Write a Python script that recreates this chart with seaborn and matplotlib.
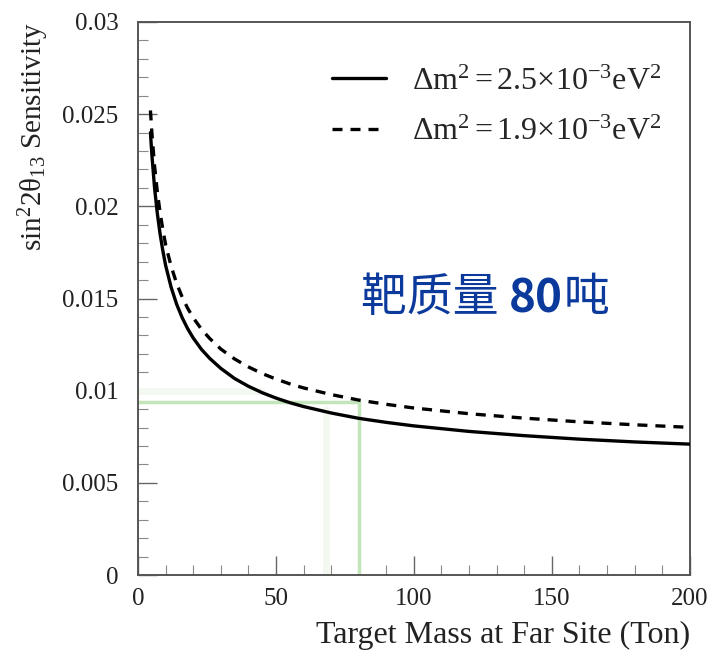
import matplotlib
matplotlib.use("Agg")
import matplotlib.pyplot as plt
import seaborn as sns
import pandas as pd

# Target mass at far site (ton)
mass = [4.5, 5, 6, 7, 8, 9, 10, 12, 14, 16, 18, 20, 23, 26, 30, 35, 40, 45,
        50, 55, 60, 70, 80, 90, 100, 120, 140, 160, 180, 200]
# sin^2(2θ13) sensitivity for the two Δm² values
sens_25 = [0.02400, 0.02284, 0.02099, 0.01961, 0.01850, 0.01759, 0.01680,
           0.01561, 0.01469, 0.01396, 0.01336, 0.01286, 0.01224, 0.01175,
           0.01121, 0.01066, 0.01024, 0.00989, 0.00960, 0.00935, 0.00914,
           0.00879, 0.00850, 0.00828, 0.00809, 0.00779, 0.00756, 0.00737,
           0.00722, 0.00710]
sens_19 = [0.02520, 0.02403, 0.02217, 0.02078, 0.01966, 0.01874, 0.01792,
           0.01675, 0.01582, 0.01508, 0.01447, 0.01396, 0.01333, 0.01283,
           0.01226, 0.01172, 0.01129, 0.01093, 0.01063, 0.01037, 0.01015,
           0.00979, 0.00949, 0.00926, 0.00906, 0.00875, 0.00851, 0.00831,
           0.00815, 0.00801]
labels = [r"$\Delta\mathrm{m}^{2} = 2.5{\times}10^{-3}\mathrm{eV}^{2}$",
          r"$\Delta\mathrm{m}^{2} = 1.9{\times}10^{-3}\mathrm{eV}^{2}$"]

# Chosen design point
chosen_mass = 80
chosen_sens = 0.0094

xticks = [0, 50, 100, 150, 200]
yticks = [0, 0.005, 0.01, 0.015, 0.02, 0.025, 0.03]
ytick_labels = ["0", "0.005", "0.01", "0.015", "0.02", "0.025", "0.03"]

df = pd.DataFrame({
    "mass": mass * 2,
    "sens": sens_25 + sens_19,
    "curve": [labels[0]] * len(mass) + [labels[1]] * len(mass),
})

sns.set_theme(style="white")
plt.rcParams["font.family"] = ["Liberation Serif", "DejaVu Serif"]
plt.rcParams["mathtext.fontset"] = "custom"
plt.rcParams["mathtext.rm"] = "Liberation Serif"
plt.rcParams["mathtext.it"] = "Liberation Serif:italic"

fig = plt.figure(figsize=(7.17, 6.66), dpi=100)
ax = fig.add_axes([0.1925, 0.1366, 0.7695, 0.8304])

# Guide lines marking the chosen target mass
ax.plot([0, 45], [0.0100, 0.0100], color="#f3f9f1", lw=5, zorder=1)
ax.plot([68, 68], [0, 0.0090], color="#f3f9f1", lw=5, zorder=1)
ax.plot([0, chosen_mass], [chosen_sens, chosen_sens], color="#c3e5ba", lw=2.5, zorder=1)
ax.plot([chosen_mass, chosen_mass], [0, chosen_sens], color="#c3e5ba", lw=2.5, zorder=1)

sns.lineplot(data=df, x="mass", y="sens", style="curve", color="black",
             dashes={labels[0]: "", labels[1]: (3.0, 2.4)},
             linewidth=2.4, ax=ax, zorder=3)

ax.set_xlim(0, 200)
ax.set_ylim(0, 0.03)
ax.set_xticks(xticks)
ax.set_xticklabels([str(t) for t in xticks])
ax.set_yticks(yticks)
ax.set_yticklabels(ytick_labels)
ax.set_xticks(range(0, 201, 10), minor=True)
ax.set_yticks([i * 0.001 for i in range(31)], minor=True)
ax.tick_params(axis="both", which="major", direction="in", length=14,
               width=1.0, color="#666666", labelsize=18, labelcolor="#222222")
ax.tick_params(axis="both", which="minor", direction="in", length=7,
               width=0.8, color="#888888")
ax.tick_params(axis="y", which="both", left=True, right=False, pad=14)
ax.tick_params(axis="x", which="both", bottom=True, top=False, pad=9)
for s in ax.spines.values():
    s.set_color("#555555")
    s.set_linewidth(1.4)

ax.set_xlabel("Target Mass at Far Site (Ton)", fontsize=23, color="#222222",
              loc="right", labelpad=8)
ax.set_ylabel(r"$\mathrm{sin^{2}2θ_{13}}$ Sensitivity", fontsize=21,
              color="#222222", loc="top", labelpad=8)

leg = ax.legend(loc="upper right", bbox_to_anchor=(1.0, 0.97), frameon=False,
                fontsize=23, handlelength=1.7, handletextpad=0.8,
                labelspacing=0.65)
for line in leg.get_lines():
    line.set_linewidth(2.4)

# Annotation: target mass 80 ton
blue = "#0b3a9c"
cjk = ["Noto Sans CJK SC", "DejaVu Sans"]
t1 = ax.text(81.0, 0.0143, "靶质量 ", fontsize=33, color=blue,
             family=cjk, va="baseline")
t2 = ax.annotate("80", xy=(1, 0), xycoords=t1, va="bottom", fontsize=33,
                 color=blue, weight="bold", family=cjk)
t3 = ax.annotate("吨", xy=(1, 0), xycoords=t2, va="bottom", fontsize=33,
                 color=blue, family=cjk)

fig.savefig("out.png", dpi=100)
